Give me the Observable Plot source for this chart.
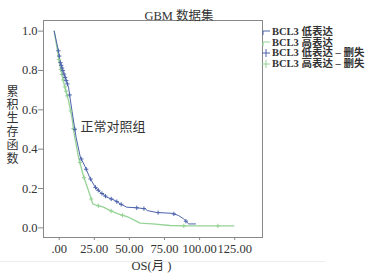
<!DOCTYPE html>
<html><head><meta charset="utf-8">
<script src="https://cdn.jsdelivr.net/npm/d3@7"></script>
<script src="https://cdn.jsdelivr.net/npm/@observablehq/plot@0.6"></script>
<style>
body{margin:0;background:#fff;}
#wrap{position:relative;width:371px;height:276px;font-family:"Liberation Serif","DejaVu Serif","Noto Sans CJK SC",serif;color:#333;}
#wrap svg text{font-family:"Liberation Serif","Noto Sans CJK SC",serif !important;}
.abs{position:absolute;white-space:nowrap;}
#legend div{height:10.5px;line-height:10.5px;font-size:10.5px;font-weight:bold;display:flex;align-items:center;}
#legend svg{margin-right:1px;}
#ylab{writing-mode:vertical-rl;text-orientation:upright;font-size:12px;letter-spacing:1.4px;line-height:13px;font-family:"Noto Sans CJK SC",serif;}
</style></head>
<body><div id="wrap"></div>
<script>
const title = "GBM 数据集";
const xLabel = "OS(月 )";
const yLabel = "累积生存函数";
const annotation = "正常对照组";
const seriesNames = ["BCL3 低表达","BCL3 高表达","BCL3 低表达 – 删失","BCL3 高表达 – 删失"];
const xTicks = [0,25,50,75,100,125];
const yTicks = [0,0.2,0.4,0.6,0.8,1.0];

// Low expression (blue) KM curve: time, survival
const lowTime = [0,3,4.3,6.6,10.2,12.6,15.6,18.6,22.1,25.2,29.2,32.8,37.5,43.4,47,51.7,58.8,64.9,66.3,73,83.9,88.5,92.1,94.5,95.8,100.6];
const lowSurv = [1,0.90,0.842,0.79,0.715,0.597,0.46,0.36,0.31,0.257,0.207,0.181,0.156,0.139,0.122,0.105,0.102,0.097,0.088,0.078,0.074,0.063,0.046,0.029,0.02,0.02];
// High expression (green)
const highTime = [0,4.3,7.1,10.2,12.6,14.2,17.3,20.4,22.7,25.2,27.5,29.9,35.1,39.9,45.6,52.9,57.7,61.2,70,82.6,92.1,127.9];
const highSurv = [1,0.817,0.73,0.647,0.563,0.478,0.36,0.275,0.224,0.173,0.122,0.115,0.105,0.088,0.071,0.054,0.037,0.024,0.02,0.012,0.01,0.01];
// Censor times
const lowCensor = [3,3.6,4.4,5,5.6,6.2,7,7.8,8.6,9.4,11,14.7,19.3,22.8,25.9,29.4,31.4,34,36.5,40.6,44.6,47.7,58.8,63.9,74,85.2,93.8];
const highCensor = [3.4,4.7,5.5,6.4,7.6,8.4,9.3,11.7,13.7,18.3,21.3,26.4,31.4,40.6,48.7,92.3,116.6];

const blue = "#4d63ab", green = "#96d396";

function mk(times, surv){ return times.map((t,i)=>({t, s:surv[i]})); }
function survAt(times, surv, t){
  for(let i=1;i<times.length;i++){ if(times[i]>=t){ const f=(t-times[i-1])/(times[i]-times[i-1]); return surv[i-1]+f*(surv[i]-surv[i-1]); } }
  return surv[surv.length-1];
}

const lowData = mk(lowTime, lowSurv);
const highData = mk(highTime, highSurv);
const lowC = lowCensor.map(t=>({t, s:survAt(lowTime,lowSurv,t)}));
const highC = highCensor.map(t=>({t, s:survAt(highTime,highSurv,t)}));

const fmtX = d => d===0 ? ".00" : d.toFixed(2);
const serif = '"Liberation Serif","DejaVu Serif",serif';

const plot = Plot.plot({
  width:371, height:276,
  marginLeft:43, marginRight:109, marginTop:20, marginBottom:39,
  style:{fontFamily:serif, fontSize:"12.5px", color:"#333", background:"#fff"},
  x:{domain:[-7.62,148.35], label:null},
  y:{domain:[-0.049,1.054], label:null},
  marks:[
    Plot.frame({stroke:"#888", strokeWidth:1}),
    Plot.axisX({ticks:xTicks, tickFormat:fmtX, tickSize:3, tickPadding:4, dx:5, stroke:"#888", fill:"#333", fontSize:12.5, fontFamily:serif, label:null}),
    Plot.axisY({ticks:yTicks, tickFormat:d=>d.toFixed(1), tickSize:5, tickPadding:1, stroke:"#888", fill:"#333", fontSize:12.5, fontFamily:serif, label:null}),
    Plot.line(highData,{x:"t",y:"s",curve:"linear",stroke:green,strokeWidth:1.3}),
    Plot.line(lowData,{x:"t",y:"s",curve:"linear",stroke:blue,strokeWidth:1}),
    Plot.dot(highC,{x:"t",y:"s",symbol:"plus",r:1.5,stroke:green,strokeWidth:1}),
    Plot.dot(lowC,{x:"t",y:"s",symbol:"plus",r:1.5,stroke:blue,strokeWidth:1}),
    Plot.text([annotation],{frameAnchor:"top-left",dx:37,dy:101,fontSize:13,fill:"#333",textAnchor:"start"}),
  ]
});
const wrap = document.getElementById("wrap");
plot.style.position="absolute"; plot.style.left="0"; plot.style.top="0";
wrap.appendChild(plot);

function add(html, css){ const d=document.createElement("div"); d.className="abs"; d.innerHTML=html; Object.assign(d.style,css); wrap.appendChild(d); return d; }
add(title,{left:"0",width:"358px",textAlign:"center",top:"5px",fontSize:"12.5px"});
add(xLabel,{left:"0",width:"303px",textAlign:"center",top:"255px",fontSize:"12.5px"});
const yl = add(yLabel,{left:"6px",top:"85px"}); yl.id="ylab";
add("",{left:"0",top:"261px",width:"325px",height:"0",borderTop:"1px solid #ececec"});

const lg = add("",{left:"262px",top:"27px"}); lg.id="legend";
const icons = [
  `<svg width="9" height="8"><path d="M1,7V3H8" fill="none" stroke="${blue}" stroke-width="1"/></svg>`,
  `<svg width="9" height="8"><path d="M1,7V3H8" fill="none" stroke="${green}" stroke-width="1.2"/></svg>`,
  `<svg width="9" height="8"><path d="M0,4H8M4,0V8" fill="none" stroke="${blue}" stroke-width="1"/></svg>`,
  `<svg width="9" height="8"><path d="M0,4H8M4,0V8" fill="none" stroke="${green}" stroke-width="1"/></svg>`
];
lg.innerHTML = seriesNames.map((n,i)=>`<div>${icons[i]}<span>${n}</span></div>`).join("");
</script></body></html>
